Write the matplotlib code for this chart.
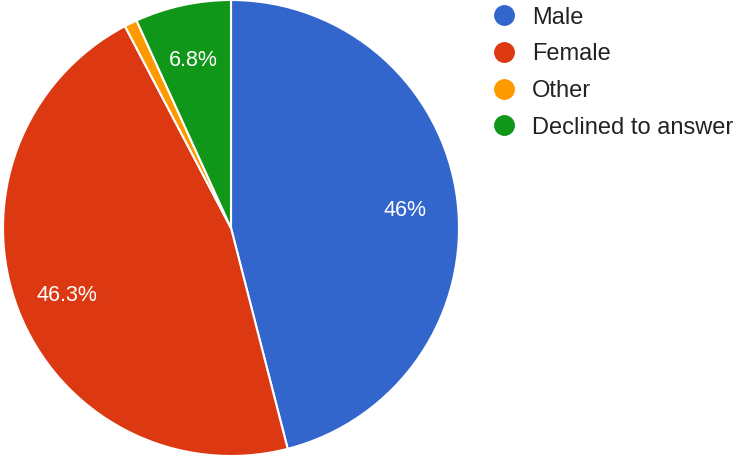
import numpy as np
import matplotlib.pyplot as plt
from matplotlib.lines import Line2D

labels = ['Male', 'Female', 'Other', 'Declined to answer']
values = [46.0, 46.3, 0.9, 6.8]
pct_labels = ['46%', '46.3%', '', '6.8%']
colors = ['#3366cc', '#dc3912', '#ff9900', '#109618']

plt.rcParams['font.family'] = ['Liberation Sans', 'DejaVu Sans']

fig = plt.figure(figsize=(7.35, 4.59), dpi=100)
ax = fig.add_axes([3 / 735, 3 / 459, 456 / 735, 456 / 459])

wedges, _ = ax.pie(values, colors=colors, startangle=90, counterclock=False,
                   wedgeprops=dict(edgecolor='white', linewidth=1.5))
ax.set_xlim(-1.0, 1.0)
ax.set_ylim(-1.0, 1.0)
ax.set_aspect('equal')

# percentage labels inside the slices
total = sum(values)
start = 90
for v, txt in zip(values, pct_labels):
    ang = start - v / total * 360 / 2
    start -= v / total * 360
    if not txt:
        continue
    r = 0.77
    ax.text(r * np.cos(np.radians(ang)), r * np.sin(np.radians(ang)) - 0.02, txt,
            color='white', fontsize=15.5, ha='center', va='center')

handles = [Line2D([], [], marker='o', linestyle='', markersize=14,
                  markerfacecolor=c, markeredgecolor=c) for c in colors]
leg = fig.legend(handles, labels, loc='upper left',
                 bbox_to_anchor=(472 / 735, 1.0 + 4 / 459),
                 frameon=False, fontsize=17, handletextpad=0.3,
                 labelspacing=0.62, handlelength=1.8, borderaxespad=0.05)
for t in leg.get_texts():
    t.set_color('#222222')

fig.savefig('out.png', dpi=100)
